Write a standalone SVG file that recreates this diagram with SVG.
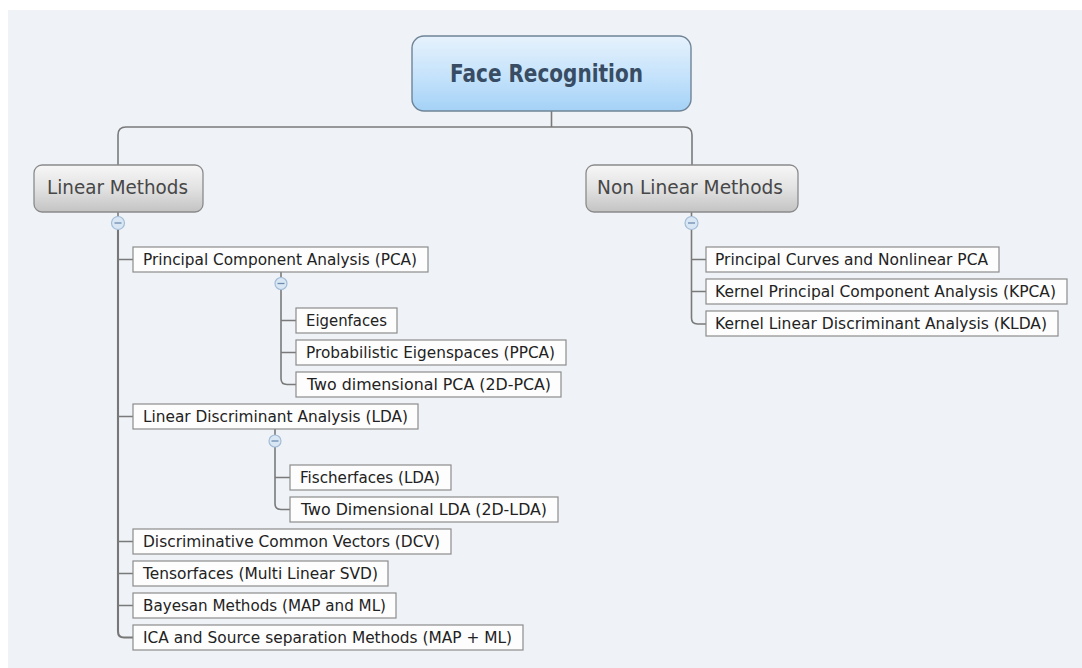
<svg xmlns="http://www.w3.org/2000/svg" width="1082" height="668" viewBox="0 0 1082 668">
<defs>
<linearGradient id="gRoot" x1="0" y1="0" x2="0" y2="1">
<stop offset="0" stop-color="#e6f2fc"/>
<stop offset="0.55" stop-color="#c4e2fb"/>
<stop offset="1" stop-color="#a4d1f6"/>
</linearGradient>
<linearGradient id="gMain" x1="0" y1="0" x2="0" y2="1">
<stop offset="0" stop-color="#f7f7f7"/>
<stop offset="0.5" stop-color="#e2e2e2"/>
<stop offset="1" stop-color="#c3c3c3"/>
</linearGradient>
<style>
.bg{fill:#eff3f7}
.root{fill:url(#gRoot);stroke:#6f8497;stroke-width:1.4}
.rootT{font-family:"DejaVu Sans","Liberation Sans",sans-serif;font-weight:bold;font-size:24px;fill:#384d63}
.main{fill:url(#gMain);stroke:#8a8a8a;stroke-width:1.3}
.mainT{font-family:"DejaVu Sans","Liberation Sans",sans-serif;font-size:19.5px;fill:#474747}
.item{fill:#fdfdfd;stroke:#8c8c8c;stroke-width:1.2}
.itemT{font-family:"DejaVu Sans","Liberation Sans",sans-serif;font-size:16.5px;fill:#222}
.con{fill:none;stroke:#7a7a7a;stroke-width:1.6}
.conM{fill:none;stroke:#777;stroke-width:2.1}
.tog{fill:#d9e7f5;stroke:#a3bcd6;stroke-width:1.2}
.togM{stroke:#6f8caf;stroke-width:1.3}
</style>
</defs>
<rect x="0" y="0" width="1082" height="668" fill="#ffffff"/>
<rect class="bg" x="8" y="10" width="1074" height="658"/>

<g id="connectors">
<path class="con" d="M551.5,111 V127"/>
<path class="con" d="M118,165 V135 Q118,127 126,127 H684 Q692,127 692,135 V165"/>
<path class="con" d="M118,212 V216.5"/>
<path class="conM" d="M118,229.5 V631.5 Q118,637.5 124,637.5 H133"/>
<path class="con" d="M118,259.5 H133 M118,416.5 H133 M118,541.5 H133 M118,573.5 H133 M118,605.5 H133"/>
<path class="con" d="M281,272 V277.5"/>
<path class="con" d="M281,289.5 V378.5 Q281,384.5 287,384.5 H296 M281,320.5 H296 M281,352.5 H296"/>
<path class="con" d="M275,429 V435"/>
<path class="con" d="M275,447 V503.5 Q275,509.5 281,509.5 H290 M275,477.5 H290"/>
<path class="con" d="M691.5,212 V216.5"/>
<path class="con" d="M691.5,229.5 V318 Q691.5,324 697.5,324 H706 M691.5,259.5 H706 M691.5,291.5 H706"/>
</g>

<g id="toggles">
<circle class="tog" cx="118" cy="223" r="6.5"/><path class="togM" d="M114.5,223 H121.5"/>
<circle class="tog" cx="281" cy="283.5" r="6"/><path class="togM" d="M277.5,283.5 H284.5"/>
<circle class="tog" cx="275" cy="441" r="6"/><path class="togM" d="M271.5,441 H278.5"/>
<circle class="tog" cx="691.5" cy="223" r="6.5"/><path class="togM" d="M688,223 H695"/>
</g>

<g id="root">
<rect class="root" x="412" y="36" width="279" height="75" rx="12"/>
<text class="rootT" x="450" y="82" textLength="193" lengthAdjust="spacingAndGlyphs">Face Recognition</text>
</g>

<g id="linear">
<rect class="main" x="34" y="165" width="169" height="47" rx="8"/>
<text class="mainT" x="47" y="194" textLength="141" lengthAdjust="spacingAndGlyphs">Linear Methods</text>
</g>

<g id="nonlinear">
<rect class="main" x="586" y="165" width="212" height="47" rx="8"/>
<text class="mainT" x="597" y="194" textLength="186" lengthAdjust="spacingAndGlyphs">Non Linear Methods</text>
</g>

<g id="pca">
<rect class="item" x="133" y="247" width="295" height="25"/>
<text class="itemT" x="143" y="265" textLength="274" lengthAdjust="spacingAndGlyphs">Principal Component Analysis (PCA)</text>
</g>
<g id="eigenfaces">
<rect class="item" x="296" y="308" width="101" height="25"/>
<text class="itemT" x="306" y="326" textLength="81" lengthAdjust="spacingAndGlyphs">Eigenfaces</text>
</g>
<g id="ppca">
<rect class="item" x="296" y="340" width="270" height="25"/>
<text class="itemT" x="306" y="358" textLength="249" lengthAdjust="spacingAndGlyphs">Probabilistic Eigenspaces (PPCA)</text>
</g>
<g id="pca2d">
<rect class="item" x="296" y="372" width="265" height="25"/>
<text class="itemT" x="307" y="390" textLength="244" lengthAdjust="spacingAndGlyphs">Two dimensional PCA (2D-PCA)</text>
</g>
<g id="lda">
<rect class="item" x="133" y="404" width="285" height="25"/>
<text class="itemT" x="143" y="422" textLength="265" lengthAdjust="spacingAndGlyphs">Linear Discriminant Analysis (LDA)</text>
</g>
<g id="fischerfaces">
<rect class="item" x="290" y="465" width="161" height="25"/>
<text class="itemT" x="300" y="483" textLength="140" lengthAdjust="spacingAndGlyphs">Fischerfaces (LDA)</text>
</g>
<g id="lda2d">
<rect class="item" x="290" y="497" width="268" height="25"/>
<text class="itemT" x="301" y="515" textLength="246" lengthAdjust="spacingAndGlyphs">Two Dimensional LDA (2D-LDA)</text>
</g>
<g id="dcv">
<rect class="item" x="133" y="529" width="318" height="25"/>
<text class="itemT" x="143" y="547" textLength="297" lengthAdjust="spacingAndGlyphs">Discriminative Common Vectors (DCV)</text>
</g>
<g id="tensorfaces">
<rect class="item" x="133" y="561" width="255" height="25"/>
<text class="itemT" x="143" y="579" textLength="235" lengthAdjust="spacingAndGlyphs">Tensorfaces (Multi Linear SVD)</text>
</g>
<g id="bayesan">
<rect class="item" x="133" y="593" width="263" height="25"/>
<text class="itemT" x="143" y="611" textLength="243" lengthAdjust="spacingAndGlyphs">Bayesan Methods (MAP and ML)</text>
</g>
<g id="ica">
<rect class="item" x="133" y="625" width="390" height="25"/>
<text class="itemT" x="143" y="643" textLength="369" lengthAdjust="spacingAndGlyphs">ICA and Source separation Methods (MAP + ML)</text>
</g>

<g id="pcurves">
<rect class="item" x="706" y="247" width="293" height="25"/>
<text class="itemT" x="715" y="265" textLength="273" lengthAdjust="spacingAndGlyphs">Principal Curves and Nonlinear PCA</text>
</g>
<g id="kpca">
<rect class="item" x="706" y="279" width="361" height="25"/>
<text class="itemT" x="715" y="297" textLength="341" lengthAdjust="spacingAndGlyphs">Kernel Principal Component Analysis (KPCA)</text>
</g>
<g id="klda">
<rect class="item" x="706" y="311" width="352" height="25"/>
<text class="itemT" x="715" y="329" textLength="332" lengthAdjust="spacingAndGlyphs">Kernel Linear Discriminant Analysis (KLDA)</text>
</g>
</svg>
